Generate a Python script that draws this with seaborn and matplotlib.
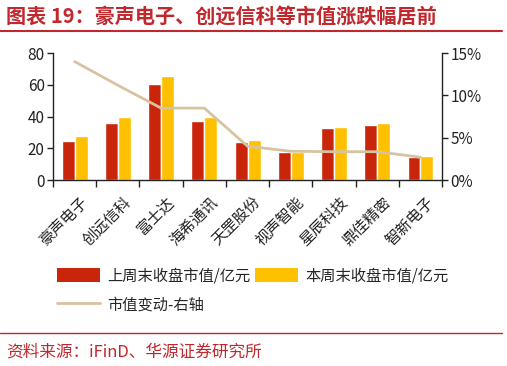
import matplotlib
matplotlib.use("Agg")
import matplotlib.pyplot as plt
import matplotlib.transforms as mtransforms
import seaborn as sns
import pandas as pd
from matplotlib.patches import Patch
from matplotlib.lines import Line2D
from matplotlib.ticker import FixedLocator, PercentFormatter

companies = ["豪声电子", "创远信科", "富士达", "海希通讯", "天罡股份", "视声智能", "星辰科技", "鼎佳精密", "智新电子"]
last_week = [24.6, 35.7, 60.5, 37.0, 24.2, 17.8, 33.0, 34.4, 14.7]
this_week = [27.9, 39.5, 65.5, 40.0, 25.2, 17.6, 33.6, 35.7, 15.1]
change_pct = [14.0, 11.2, 8.5, 8.5, 4.0, 3.4, 3.35, 3.35, 2.7]
series_names = ["上周末收盘市值/亿元", "本周末收盘市值/亿元", "市值变动-右轴"]

sns.set_theme(style="white")
plt.rcParams["font.family"] = ["Noto Sans CJK SC", "DejaVu Sans"]

RED = "#C8250B"
YEL = "#FFC000"
TAN = "#D8C3A0"
TITLE_RED = "#C0282D"

df = pd.DataFrame({
    "公司": companies * 2,
    "值": last_week + this_week,
    "系列": [series_names[0]] * len(companies) + [series_names[1]] * len(companies),
})
dl = pd.DataFrame({"公司": companies, "变动": change_pct})

fig = plt.figure(figsize=(5.07, 3.66), dpi=100)
ax = fig.add_axes([0.1045, 0.508, 0.7675, 0.347])
sns.barplot(data=df, x="公司", y="值", hue="系列", palette=[RED, YEL],
            width=0.6, gap=0, ax=ax, legend=False, saturation=1)
ax.set_ylim(0, 80)
ax.set_yticks([0, 20, 40, 60, 80])
ax.set_xlim(-0.5, len(companies) - 0.5)
ax.set_xlabel("")
ax.set_ylabel("")

ax2 = ax.twinx()
sns.lineplot(data=dl, x="公司", y="变动", sort=False, color=TAN, lw=2, ax=ax2)
ax2.set_ylim(0, 15)
ax2.set_yticks([0, 5, 10, 15])
ax2.yaxis.set_major_formatter(PercentFormatter(decimals=0))
ax2.set_ylabel("")
ax2.set_xlabel("")
ax2.set_xlim(-0.5, len(companies) - 0.5)

for a in (ax, ax2):
    a.spines["top"].set_visible(False)
    for s in ("left", "right", "bottom"):
        a.spines[s].set_color("#222222")
        a.spines[s].set_linewidth(1.0)
ax.spines["right"].set_visible(False)
ax2.spines["left"].set_visible(False)
ax2.spines["bottom"].set_visible(False)

ax.tick_params(axis="y", left=True, length=4, width=1, color="#222222", labelsize=11, labelcolor="#222222", pad=2)
ax2.tick_params(axis="y", right=True, length=4, width=1, color="#222222", labelsize=11, labelcolor="#222222", pad=2)

ax.set_xticks(range(len(companies)))
ax.set_xticklabels(companies, rotation=45, ha="right", va="top", rotation_mode="anchor",
                   fontsize=11, color="#222222")
ax.tick_params(axis="x", bottom=False, length=0, pad=10)
offset = mtransforms.ScaledTranslation(5 / 100, 0, fig.dpi_scale_trans)
for lab in ax.get_xticklabels():
    lab.set_transform(lab.get_transform() + offset)
ax.xaxis.set_minor_locator(FixedLocator([i - 0.5 for i in range(len(companies) + 1)]))
ax.tick_params(axis="x", which="minor", bottom=True, length=5, width=1, color="#222222")
ax2.tick_params(axis="x", bottom=False, labelbottom=False)

handles = [Patch(facecolor=RED, edgecolor="none", label=series_names[0]),
           Line2D([], [], color=TAN, lw=2, label=series_names[2]),
           Patch(facecolor=YEL, edgecolor="none", label=series_names[1])]
fig.legend(handles=handles, ncol=2, loc="upper left", bbox_to_anchor=(0.1, 0.287),
           frameon=False, fontsize=11, handlelength=2.8, handleheight=1.0,
           columnspacing=0.3, handletextpad=0.5, labelspacing=0.8, borderaxespad=0)

fig.text(0.012, 0.955, "图表 19：豪声电子、创远信科等市值涨跌幅居前", color=TITLE_RED,
         fontsize=14.5, fontweight="bold", ha="left", va="center")
fig.add_artist(Line2D([0.0, 0.99], [0.915, 0.915], color=TITLE_RED, lw=1.5, transform=fig.transFigure))
fig.add_artist(Line2D([0.0, 0.99], [0.09, 0.09], color=TITLE_RED, lw=1.0, transform=fig.transFigure))
fig.text(0.012, 0.038, "资料来源：iFinD、华源证券研究所", color=TITLE_RED, fontsize=12, ha="left", va="center")

fig.savefig("out.png", dpi=100)
